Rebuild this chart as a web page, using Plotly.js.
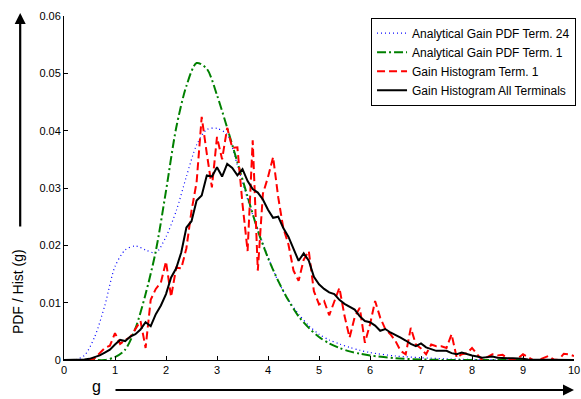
<!DOCTYPE html>
<html>
<head>
<meta charset="utf-8">
<script src="https://cdn.plot.ly/plotly-3.0.1.min.js"></script>
<style>html,body{margin:0;padding:0;background:#fff;}#chart{width:581px;height:399px;}</style>
</head>
<body>
<div id="chart"></div>
<script>
// Analytical curves sample grid (g)
const gAnalytic = [0,0.2,0.4,0.6,0.8,1.0,1.2,1.4,1.6,1.8,2.0,2.2,2.4,2.6,2.8,3.0,3.2,3.4,3.6,3.8,4.0,4.2,4.4,4.6,4.8,5.0,5.2,5.4,5.6,5.8,6.0,6.5,7.0,7.5,8.0,9.0,10.0];
const pdfTerm24 = [0,0,0.0008,0.004,0.0095,0.0163,0.0192,0.0199,0.0192,0.0187,0.0215,0.026,0.032,0.0375,0.0402,0.0404,0.0393,0.034,0.028,0.0228,0.018,0.0137,0.0105,0.008,0.006,0.0045,0.0035,0.0028,0.0022,0.0017,0.0013,0.0007,0.0004,0.0002,0.0001,0,0];
const pdfTerm1 = [0,0,0,0,0,0.0005,0.0018,0.0055,0.0115,0.019,0.0295,0.0405,0.0478,0.0518,0.0508,0.0462,0.0405,0.0345,0.0285,0.0226,0.0178,0.0138,0.0104,0.0076,0.0056,0.004,0.0029,0.0021,0.0015,0.0011,0.0008,0.0003,0.0001,0,0,0,0];

// Histogram bin centres (g)
const gHist = [0,0.1,0.2,0.3,0.4,0.5,0.6,0.7,0.8,0.9,1.0,1.1,1.2,1.3,1.4,1.5,1.6,1.7,1.8,1.9,2.0,2.1,2.2,2.3,2.4,2.5,2.6,2.7,2.8,2.9,3.0,3.1,3.2,3.3,3.4,3.5,3.6,3.7,3.8,3.9,4.0,4.1,4.2,4.3,4.4,4.5,4.6,4.7,4.8,4.9,5.0,5.1,5.2,5.3,5.4,5.5,5.6,5.7,5.8,5.9,6.0,6.1,6.2,6.3,6.4,6.5,6.6,6.7,6.8,6.9,7.0,7.1,7.2,7.3,7.4,7.5,7.6,7.7,7.8,7.9,8.0,8.1,8.2,8.3,8.4,8.5,8.6,8.7,8.8,8.9,9.0,9.1,9.2,9.3,9.4,9.5,9.6,9.7,9.8,9.9,10.0];
const histTerm1 = [0,0,0,0,0,0,0.0003,0.0012,0.0021,0.0025,
  0.0047,0.0028,0.0035,0.004,0.0055,0.0068,0.0021,0.0105,0.0124,0.0135,
  0.0172,0.011,0.0161,0.016,0.0195,0.026,0.031,0.0424,0.036,0.0301,
  0.0389,0.035,0.0405,0.037,0.0371,0.0272,0.019,0.0383,0.0156,0.029,
  0.0319,0.0354,0.0284,0.023,0.0202,0.0156,0.0138,0.0175,0.019,0.012,
  0.0097,0.0103,0.0078,0.0103,0.0126,0.0077,0.0039,0.0075,0.0091,0.003,
  0.0062,0.0103,0.0074,0.0054,0.0045,0.0033,0.0016,0.001,0.0056,0.0027,
  0.002,0.001,0.0027,0.0024,0.0024,0.0021,0.0045,0.0004,0.001,0.0012,
  0.0021,0.001,0,0.0005,0.001,0.0008,0.0009,0.0003,0,0.0003,
  0.001,0.0005,0,0,0.0003,0.0007,0.0001,0,0.0011,0.001,0.0007];
const histAll = [0,0,0,0,0.0001,0.0002,0.0005,0.0008,0.0013,0.0018,
  0.0027,0.0035,0.0033,0.0041,0.0045,0.0053,0.0066,0.0059,0.008,0.0095,
  0.0115,0.0144,0.016,0.0188,0.0231,0.0242,0.0278,0.0287,0.0322,0.032,
  0.0336,0.032,0.0342,0.0335,0.0322,0.0333,0.0312,0.0298,0.0292,0.028,
  0.0262,0.0248,0.025,0.023,0.0215,0.0195,0.0173,0.0186,0.0173,0.0145,
  0.0132,0.0124,0.0118,0.0115,0.0105,0.0098,0.0093,0.0088,0.0076,0.0068,
  0.0066,0.006,0.0051,0.0054,0.0048,0.0044,0.0039,0.0034,0.0028,0.0024,
  0.0029,0.0022,0.0019,0.0016,0.0016,0.0016,0.0012,0.001,0.0013,0.001,
  0.0008,0.0006,0.0004,0.0005,0.0006,0.0004,0.0003,0.0003,0.0003,0.0003,
  0.0002,0.0001,0.0001,0.0001,0,0,0,0,0,0,0];

const seriesNames = ['Analytical Gain PDF Term. 24','Analytical Gain PDF Term. 1','Gain Histogram Term. 1','Gain Histogram All Terminals'];
const xTicks = [0,1,2,3,4,5,6,7,8,9,10];
const yTicks = [0,0.01,0.02,0.03,0.04,0.05,0.06];
const yTickText = ['0','0.01','0.02','0.03','0.04','0.05','0.06'];

const FONT = '"Liberation Sans", Arial, sans-serif';

const traces = [
  {x:gAnalytic, y:pdfTerm24, name:seriesNames[0], mode:'lines', line:{color:'#0000ff', width:1.2, dash:'1px,3px', shape:'spline', smoothing:0.8}},
  {x:gAnalytic, y:pdfTerm1, name:seriesNames[1], mode:'lines', line:{color:'#008000', width:2, dash:'9px,3px,2px,3px', shape:'spline', smoothing:0.8}},
  {x:gHist, y:histTerm1, name:seriesNames[2], mode:'lines', line:{color:'#ff0000', width:2, dash:'8px,4px'}},
  {x:gHist, y:histAll, name:seriesNames[3], mode:'lines', line:{color:'#000000', width:2}}
];

const layout = {
  width:581, height:399,
  margin:{l:64, r:5, t:16, b:39, pad:0},
  paper_bgcolor:'#fff', plot_bgcolor:'#fff',
  font:{family:FONT, size:11, color:'#000'},
  showlegend:true,
  legend:{x:1.004, xanchor:'right', y:0.995, yanchor:'top', bgcolor:'#fff', bordercolor:'#000', borderwidth:1,
          font:{family:FONT, size:12, color:'#000'}, tracegroupgap:0, itemwidth:30},
  xaxis:{range:[0,10], tickvals:xTicks, ticktext:xTicks.map(String), ticks:'inside', ticklen:4, tickcolor:'#000',
         showline:true, linecolor:'#000', linewidth:1, showgrid:false, zeroline:false, mirror:false,
         tickfont:{family:FONT, size:11, color:'#000'}},
  yaxis:{range:[0,0.06], tickvals:yTicks, ticktext:yTickText, ticks:'inside', ticklen:4, tickcolor:'#000',
         showline:true, linecolor:'#000', linewidth:1, showgrid:false, zeroline:false, mirror:false,
         tickfont:{family:FONT, size:11, color:'#000'}},
  annotations:[
    {xref:'paper', yref:'paper', x:-0.0898, y:0.198, text:'PDF / Hist (g)', textangle:-90, showarrow:false,
     font:{family:FONT, size:14, color:'#000'}, xanchor:'center', yanchor:'middle'},
    {xref:'paper', yref:'paper', x:0.0645, y:-0.0756, text:'g', showarrow:false,
     font:{family:FONT, size:16, color:'#000'}, xanchor:'center', yanchor:'middle'},
    {xref:'paper', yref:'paper', x:-0.0859, y:1.0087, text:'', showarrow:true, axref:'pixel', ayref:'pixel', ax:0, ay:215,
     arrowhead:2, arrowsize:1, arrowwidth:2.2, arrowcolor:'#000', standoff:0, startstandoff:0},
    {xref:'paper', yref:'paper', x:1.0, y:-0.0872, text:'', showarrow:true, axref:'pixel', ayref:'pixel', ax:-460, ay:0,
     arrowhead:2, arrowsize:1, arrowwidth:2.2, arrowcolor:'#000', standoff:0, startstandoff:0}
  ]
};

Plotly.newPlot('chart', traces, layout, {displayModeBar:false, staticPlot:true});
</script>
</body>
</html>
